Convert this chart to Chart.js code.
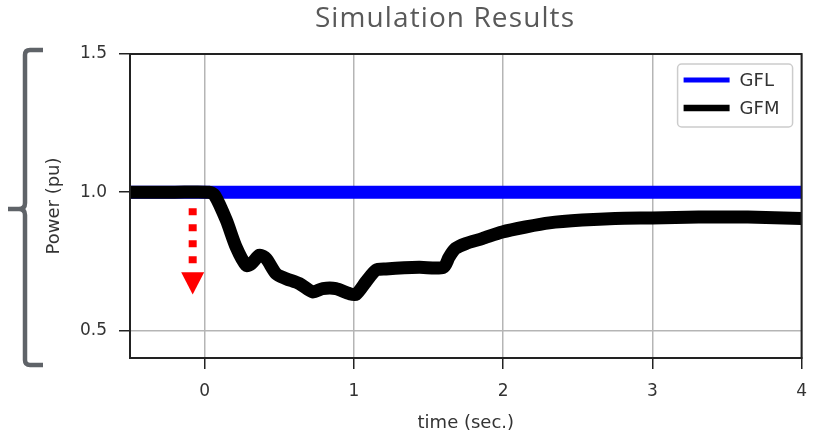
<!DOCTYPE html>
<html>
<head>
<meta charset="utf-8">
<script src="https://cdn.jsdelivr.net/npm/chart.js@4/dist/chart.umd.min.js"></script>
<style>
  body { margin: 0; background: #fff; }
  #wrap { position: relative; width: 819px; height: 431px; overflow: hidden; }
  #chart { position: absolute; left: 0; top: 0; }
  #title {
    position: absolute; left: 445px; top: 2px; transform: translateX(-50%);
    font-family: "Open Sans", sans-serif; font-size: 28px; line-height: 28px;
    letter-spacing: 1.1px; color: #595959; white-space: nowrap;
  }
  #brace { position: absolute; left: 0; top: 0; }
</style>
</head>
<body>
<div id="wrap">
  <canvas id="chart" width="819" height="431"></canvas>
  <div id="title">Simulation Results</div>
  <svg id="brace" width="60" height="431">
    <path d="M43,50 L30,50 Q25,50 25,55 L25,203 Q25,209 19,209 L8,209 M19,209 Q25,209 25,215 L25,360 Q25,365 30,365 L43,365"
          fill="none" stroke="#5f6368" stroke-width="4.5" stroke-linecap="butt"/>
  </svg>
</div>
<script>
// series values
const seriesNames = ['GFL', 'GFM'];

const gflTime  = [-0.5, 0.5, 1.5, 2.5, 3.5, 4.0];
const gflPower = [1.0, 1.0, 1.0, 1.0, 1.0, 1.0];

const gfmTime  = [-0.5, -0.2, 0.03, 0.067, 0.145, 0.212, 0.279, 0.312, 0.368, 0.412, 0.479, 0.546,
                  0.635, 0.724, 0.791, 0.88, 0.969, 1.014, 1.08, 1.148, 1.215, 1.437, 1.6, 1.638,
                  1.68, 1.75, 1.86, 1.995, 2.15, 2.31, 2.53, 2.75, 3.0, 3.31, 3.64, 4.0];
const gfmPower = [1.0, 1.0, 1.0, 0.989, 0.899, 0.80, 0.735, 0.741, 0.772, 0.76, 0.705, 0.687,
                  0.669, 0.639, 0.651, 0.651, 0.633, 0.630, 0.675, 0.718, 0.722, 0.728, 0.728, 0.765,
                  0.796, 0.814, 0.832, 0.856, 0.874, 0.889, 0.899, 0.905, 0.907, 0.91, 0.91, 0.905];

// tick labels
const xTicks = [0, 1, 2, 3, 4];
const yTicks = [0.5, 1.0, 1.5];

// red dotted arrow (in data units)
const dropArrow = { t: -0.08, lineFrom: 0.942, lineTo: 0.743, headTop: 0.71, headTip: 0.63 };

const toPoints = (xs, ys) => xs.map((x, i) => ({ x: x, y: ys[i] }));

const tickFont = { family: 'DejaVu Sans', size: 17 };
const titleFont = { family: 'DejaVu Sans', size: 18 };
const textColor = '#333333';
const frameColor = '#222222';
const gridColor = '#b5b5b5';

// frame around the plot area
const framePlugin = {
    id: 'frame',
    afterDatasetsDraw(chart) {
        const { ctx, chartArea: a } = chart;
        ctx.save();
        ctx.strokeStyle = frameColor;
        ctx.lineWidth = 2;
        ctx.strokeRect(a.left, a.top, a.right - a.left, a.bottom - a.top);
        ctx.restore();
    }
};

// red dotted arrow
const arrowPlugin = {
    id: 'dropArrow',
    afterDatasetsDraw(chart) {
        const { ctx, scales: { x, y } } = chart;
        const px = x.getPixelForValue(dropArrow.t);
        ctx.save();
        ctx.strokeStyle = '#ff0000';
        ctx.fillStyle = '#ff0000';
        ctx.lineWidth = 8;
        ctx.setLineDash([7, 9]);
        ctx.beginPath();
        ctx.moveTo(px, y.getPixelForValue(dropArrow.lineFrom));
        ctx.lineTo(px, y.getPixelForValue(dropArrow.lineTo));
        ctx.stroke();
        ctx.setLineDash([]);
        const top = y.getPixelForValue(dropArrow.headTop);
        ctx.beginPath();
        ctx.moveTo(px - 11.5, top);
        ctx.lineTo(px + 11.5, top);
        ctx.lineTo(px, y.getPixelForValue(dropArrow.headTip));
        ctx.closePath();
        ctx.fill();
        ctx.restore();
    }
};

// legend box in the upper right of the plot
const boxLegendPlugin = {
    id: 'boxLegend',
    afterDraw(chart) {
        const { ctx, chartArea: a } = chart;
        const w = 115, h = 63;
        const left = a.right - 9 - w, top = a.top + 10;
        ctx.save();
        ctx.fillStyle = 'rgba(255,255,255,0.8)';
        ctx.strokeStyle = '#cccccc';
        ctx.lineWidth = 1.5;
        ctx.beginPath();
        ctx.roundRect(left, top, w, h, 4);
        ctx.fill();
        ctx.stroke();
        chart.data.datasets.forEach((ds, i) => {
            const rowY = top + 16 + i * 28;
            ctx.strokeStyle = ds.borderColor;
            ctx.lineWidth = i === 0 ? 5 : 6.5;
            ctx.beginPath();
            ctx.moveTo(left + 6, rowY);
            ctx.lineTo(left + 52, rowY);
            ctx.stroke();
            ctx.fillStyle = textColor;
            ctx.font = '18px "DejaVu Sans"';
            ctx.textBaseline = 'middle';
            ctx.fillText(ds.label, left + 62, rowY + 1);
        });
        ctx.restore();
    }
};

new Chart(document.getElementById('chart'), {
    type: 'line',
    data: {
        datasets: [{
            label: seriesNames[0],
            data: toPoints(gflTime, gflPower),
            borderColor: '#0000ff',
            borderWidth: 13,
            pointRadius: 0,
            tension: 0,
            order: 1,
            clip: 0
        }, {
            label: seriesNames[1],
            data: toPoints(gfmTime, gfmPower),
            borderColor: '#000000',
            borderWidth: 13,
            borderJoinStyle: 'round',
            pointRadius: 0,
            tension: 0.25,
            order: 0,
            clip: 0
        }]
    },
    options: {
        responsive: false,
        animation: false,
        devicePixelRatio: 1,
        layout: { padding: { left: 0, right: 16, top: 54, bottom: 0 } },
        plugins: {
            legend: { display: false },
            tooltip: { enabled: false }
        },
        scales: {
            x: {
                type: 'linear',
                min: -0.5,
                max: 4,
                afterBuildTicks: (s) => { s.ticks = xTicks.map(v => ({ value: v })); },
                afterFit: (s) => { s.height = 73; },
                grid: { color: gridColor, lineWidth: 1.5, tickLength: 11, tickColor: frameColor, tickWidth: 1.5 },
                border: { display: true, color: frameColor, width: 2 },
                ticks: { font: tickFont, color: textColor, padding: 12, maxRotation: 0, callback: (v) => String(v) },
                title: { display: true, text: 'time (sec.)', font: titleFont, color: textColor, padding: { top: 0, bottom: -3 } }
            },
            y: {
                min: 0.4,
                max: 1.5,
                afterBuildTicks: (s) => { s.ticks = yTicks.map(v => ({ value: v })); },
                afterFit: (s) => { s.width = 130; },
                grid: { color: gridColor, lineWidth: 1.5, tickLength: 11, tickColor: frameColor, tickWidth: 1.5 },
                border: { display: true, color: frameColor, width: 2 },
                ticks: { font: tickFont, color: textColor, padding: 12, callback: (v) => Number(v).toFixed(1) },
                title: { display: true, text: 'Power (pu)', font: titleFont, color: textColor, padding: { top: 44, bottom: 0 } }
            }
        }
    },
    plugins: [framePlugin, arrowPlugin, boxLegendPlugin]
});
</script>
</body>
</html>
